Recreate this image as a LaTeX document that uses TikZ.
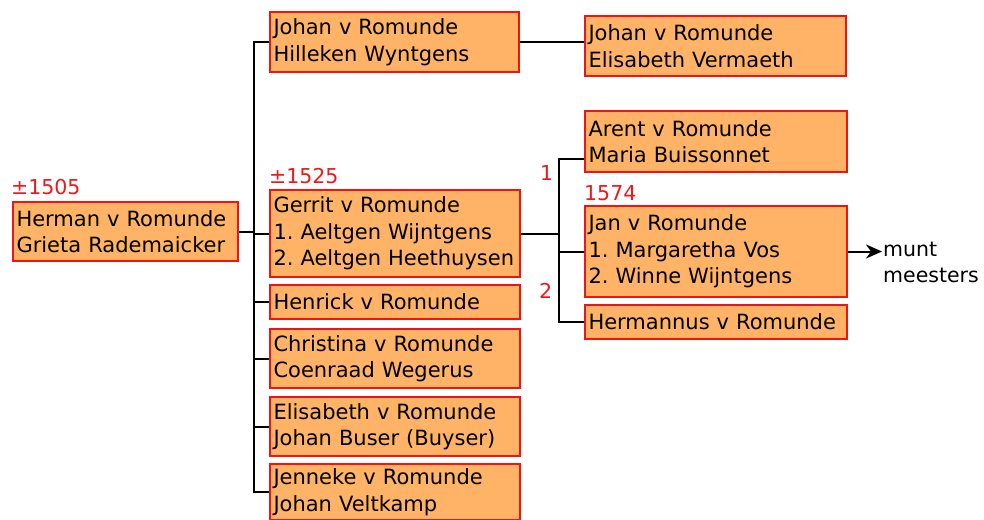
\documentclass[tikz,border=0pt]{standalone}
\usepackage{fontspec}
\setmainfont{DejaVu Sans}
\frenchspacing
\usetikzlibrary{calc,arrows.meta}
\definecolor{boxfill}{RGB}{255,179,102}
\definecolor{boxline}{RGB}{240,20,20}
\definecolor{datered}{RGB}{235,25,25}
\tikzset{
  pbox/.style={draw=boxline, fill=boxfill, line width=2pt, anchor=north west,
    inner xsep=3.5pt, inner ysep=0pt, align=left,
    font=\fontsize{21}{26.5}\selectfont,
    execute at begin node={\hyphenpenalty=10000 \exhyphenpenalty=10000 \hbadness=10000 \hfuzz=20pt}},
  datelbl/.style={text=datered, anchor=base west, inner sep=0pt,
    font=\fontsize{20.5}{24}\selectfont},
  conn/.style={line width=2pt, black},
}
\begin{document}
\begin{tikzpicture}[x=1pt,y=-1pt]
\useasboundingbox (0,0) rectangle (984,519);
% boxes
\node[pbox, text width=218pt, minimum height=59pt] (herman) at (12,201) {Herman v Romunde\\Grieta Rademaicker};
\node[pbox, text width=242pt, minimum height=60pt] (hw) at (269,11) {Johan v Romunde\\Hilleken Wyntgens};
\node[pbox, text width=254pt, minimum height=60pt] (ev) at (584,15) {Johan v Romunde\\Elisabeth Vermaeth};
\node[pbox, text width=243pt, minimum height=87pt] (gerrit) at (269,189) {Gerrit v Romunde\\1. Aeltgen Wijntgens\\2. Aeltgen Heethuysen};
\node[pbox, text width=243pt, minimum height=34pt] (henrick) at (269,284) {Henrick v Romunde};
\node[pbox, text width=243pt, minimum height=59pt] (christina) at (269,328) {Christina v Romunde\\Coenraad Wegerus};
\node[pbox, text width=243pt, minimum height=59pt] (elisabeth) at (269,396) {Elisabeth v Romunde\\Johan Buser (Buyser)};
\node[pbox, text width=243pt, minimum height=56pt] (jenneke) at (269,463) {Jenneke v Romunde\\Johan Veltkamp};
\node[pbox, text width=255pt, minimum height=61pt] (arent) at (584,110) {Arent v Romunde\\Maria Buissonnet};
\node[pbox, text width=255pt, minimum height=91pt] (jan) at (584,205) {Jan v Romunde\\1. Margaretha Vos\\2. Winne Wijntgens};
\node[pbox, text width=255pt, minimum height=34pt] (hermannus) at (584,304) {Hermannus v Romunde};
% labels
\node[datelbl] (d1505) at (11,194) {±1505};
\node[datelbl] (d1525) at (269,183) {±1525};
\node[datelbl] (d1574) at (584,200) {1574};
\node[datelbl] (n1) at (540,180) {1};
\node[datelbl] (n2) at (539,298) {2};
\node[anchor=west, align=left, inner sep=0pt, font=\fontsize{20.5}{26}\selectfont] (munt) at (883,262) {munt\\meesters};
% connectors
\coordinate (t1) at (254,0);
\coordinate (t2) at (559,0);
\draw[conn] (herman.east) -- (herman.east -| t1);
\draw[conn] (hw.west) -| (jenneke.west -| t1) -- (jenneke.west);
\foreach \n in {gerrit,henrick,christina,elisabeth} \draw[conn] (\n.west) -- (\n.west -| t1);
\draw[conn] (hw.east) -- (hw.east -| ev.west);
\coordinate (arin) at ($(arent.south west)+(0,-14)$);
\draw[conn] (gerrit.east) -- (gerrit.east -| t2);
\draw[conn] (arin) -| (hermannus.west -| t2) -- (hermannus.west);
\draw[conn] (jan.west) -- (jan.west -| t2);
\draw[conn, -{Stealth[length=16pt,width=14pt,inset=5pt]}] (jan.east) -- ($(jan.east -| munt.west)+(-1,0)$);
\end{tikzpicture}
\end{document}
